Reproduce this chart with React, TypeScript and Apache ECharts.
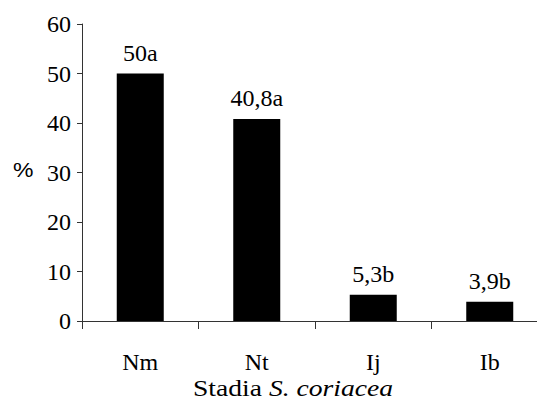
import React, { useEffect, useRef } from "react";
import * as echarts from "echarts";

const categories = ["Nm", "Nt", "Ij", "Ib"];
const values = [50, 40.8, 5.3, 3.9];
const barLabels = ["50a", "40,8a", "5,3b", "3,9b"];
const yTicks = { min: 0, max: 60, interval: 10 };

const SERIF = "Liberation Serif";

export default function App() {
  const ref = useRef<HTMLDivElement>(null);
  useEffect(() => {
    if (!ref.current) return;
    const chart = echarts.init(ref.current, null, { renderer: "svg" });
    chart.setOption({
      animation: false,
      backgroundColor: "#ffffff",
      textStyle: { fontFamily: SERIF },
      grid: { left: 82, top: 24, width: 466, height: 297, containLabel: false },
      xAxis: {
        type: "category",
        data: categories,
        axisLine: { lineStyle: { color: "#333", width: 1 } },
        axisTick: { show: true, length: 8, alignWithLabel: false, lineStyle: { color: "#333" } },
        axisLabel: { color: "#000", fontFamily: SERIF, fontSize: 24, margin: 29 },
      },
      yAxis: {
        type: "value",
        min: yTicks.min,
        max: yTicks.max,
        interval: yTicks.interval,
        splitLine: { show: false },
        axisLine: { show: true, lineStyle: { color: "#333", width: 1 } },
        axisTick: { show: true, length: 5, lineStyle: { color: "#333" } },
        axisLabel: { color: "#000", fontFamily: SERIF, fontSize: 24, margin: 11 },
      },
      series: [
        {
          type: "bar",
          data: values,
          barWidth: 47,
          itemStyle: { color: "#000" },
          label: {
            show: true,
            position: "top",
            distance: 9,
            color: "#000",
            fontFamily: SERIF,
            fontSize: 24,
            formatter: (p: any) => barLabels[p.dataIndex],
          },
        },
      ],
      graphic: [
        {
          type: "text",
          x: 13,
          y: 170,
          scaleX: 1.15,
          style: {
            text: "%",
            fontFamily: "Liberation Sans",
            fontSize: 20,
            fill: "#000",
            verticalAlign: "middle",
          },
        },
        {
          type: "text",
          x: 293,
          y: 388,
          scaleX: 1.2,
          style: {
            text: "Stadia {i|S. coriacea}",
            fontFamily: SERIF,
            fontSize: 23,
            lineHeight: 23,
            fill: "#000",
            align: "center",
            verticalAlign: "middle",
            rich: {
              i: { fontFamily: SERIF, fontSize: 23, lineHeight: 23, fontStyle: "italic", fill: "#000" },
            },
          },
        },
      ],
    });
    return () => chart.dispose();
  }, []);
  return (
    <div
      style={{ position: "fixed", left: 0, top: 0, width: 537, height: 402, overflow: "hidden", background: "#fff" }}
    >
      <div ref={ref} style={{ width: 560, height: 402 }} />
    </div>
  );
}
